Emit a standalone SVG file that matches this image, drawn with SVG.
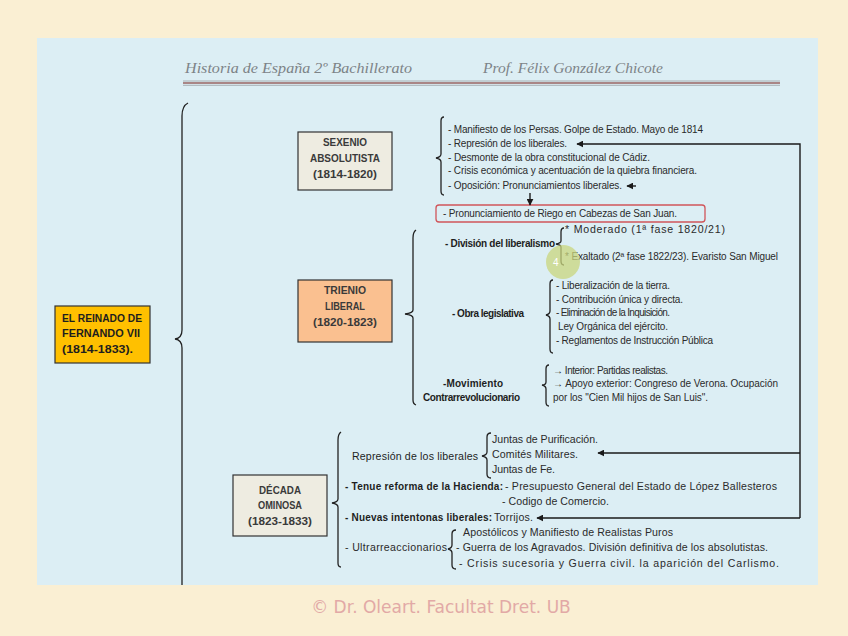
<svg xmlns="http://www.w3.org/2000/svg" width="848" height="636" viewBox="0 0 848 636">
<defs>
<marker id="ah" viewBox="0 0 10 10" refX="9" refY="5" markerWidth="5" markerHeight="5" orient="auto-start-reverse"><path d="M0,0 L10,5 L0,10 z" fill="#1a1a1a"/></marker>
<style>
text{font-family:"Liberation Sans",Arial,sans-serif;fill:#2b2b2b;font-size:10px}
.b{font-weight:bold;fill:#1e1e1e}
.m{font-size:10.6px}
.box{stroke:#333;stroke-width:1.2}
.bt{font-weight:bold;font-size:11px;fill:#3a3a3a;text-anchor:middle}
.br{fill:none;stroke:#222;stroke-width:1.3}
.cn{fill:none;stroke:#1a1a1a;stroke-width:1.4}
.hd{font-family:"Liberation Serif",serif;font-style:italic;font-size:15px;fill:#7d8387}
</style>
</defs>
<rect width="848" height="636" fill="#FAEFD3"/>
<rect x="37" y="38" width="781" height="547" fill="#DCEEF4"/>
<g id="header">
<text class="hd" x="185" y="73" textLength="227" lengthAdjust="spacingAndGlyphs">Historia de España 2º Bachillerato</text>
<text class="hd" x="483" y="73" textLength="180" lengthAdjust="spacingAndGlyphs">Prof. Félix González Chicote</text>
<line x1="183" y1="81" x2="780" y2="81" stroke="#9aa0a3" stroke-width="0.8"/>
<line x1="183" y1="83" x2="780" y2="83" stroke="#A98686" stroke-width="2.2"/>
<line x1="183" y1="85.3" x2="780" y2="85.3" stroke="#9aa0a3" stroke-width="0.8"/>
</g>
<g id="reinado">
<rect class="box" x="55" y="306" width="95" height="57" fill="#FFC000"/>
<text class="b" x="62" y="322" font-size="11" textLength="80" lengthAdjust="spacingAndGlyphs">EL REINADO DE</text>
<text class="b" x="62" y="337" font-size="11" textLength="78" lengthAdjust="spacingAndGlyphs">FERNANDO VII</text>
<text class="b" x="62" y="353" font-size="11" textLength="71" lengthAdjust="spacingAndGlyphs">(1814-1833).</text>
</g>
<g id="braces">
<path class="br" d="M188,103 Q182,106 182,116 L182,330 Q182,338 175,339 Q182,340 182,348 L182,585" stroke-width="2"/>
<path class="br" d="M444,117 Q441,117 441,121 L441,154 Q441,157 436,158 Q441,159 441,162 L441,191 Q441,195 444,195"/>
<path class="br" d="M416,230 Q413,232 413,238 L413,310 Q413,313 405,314 Q413,315 413,318 L413,400 Q413,404 416,405"/>
<path class="br" d="M564,228 Q561,228 561,232 L561,241 Q561,243 556,244 Q561,245 561,247 L561,261 Q561,265 564,265"/>
<path class="br" d="M553,280 Q550,280 550,284 L550,311 Q550,314 546,315 Q550,316 550,319 L550,349 Q550,353 553,353"/>
<path class="br" d="M549,365 Q546,365 546,369 L546,382 Q546,385 542,385 Q546,386 546,389 L546,402 Q546,406 549,406"/>
<path class="br" d="M341,432 Q338,434 338,440 L338,499 Q338,502 332,503 Q338,504 338,507 L338,563 Q338,567 341,567"/>
<path class="br" d="M491,433 Q487,433 487,437 L487,452 Q487,455 482,456 Q487,457 487,460 L487,474 Q487,478 491,478"/>
<path class="br" d="M456,530 Q452,530 452,534 L452,545 Q452,548 448,549 Q452,550 452,553 L452,565 Q452,569 456,569"/>
</g>
<g id="sexenio">
<rect class="box" x="298" y="132" width="94" height="58" fill="#EEECE1"/>
<text class="bt" x="345" y="146" textLength="44" lengthAdjust="spacingAndGlyphs">SEXENIO</text>
<text class="bt" x="345" y="162" textLength="70" lengthAdjust="spacingAndGlyphs">ABSOLUTISTA</text>
<text class="bt" x="345" y="178" textLength="64" lengthAdjust="spacingAndGlyphs">(1814-1820)</text>
<text x="448" y="133" textLength="255" lengthAdjust="spacing">- Manifiesto de los Persas. Golpe de Estado. Mayo de 1814</text>
<text x="448" y="147" textLength="119" lengthAdjust="spacing">- Represión de los liberales.</text>
<text x="448" y="161" textLength="202" lengthAdjust="spacing">- Desmonte de la obra constitucional de Cádiz.</text>
<text x="448" y="174" textLength="249" lengthAdjust="spacing">- Crisis económica y acentuación de la quiebra financiera.</text>
<text x="448" y="189" textLength="174" lengthAdjust="spacing">- Oposición: Pronunciamientos liberales.</text>
</g>
<g id="riego">
<rect x="436" y="205" width="269" height="17" rx="3" fill="none" stroke="#D0555A" stroke-width="1.3"/>
<text x="443" y="217" textLength="234" lengthAdjust="spacing">- Pronunciamiento de Riego en Cabezas de San Juan.</text>
</g>
<g id="trienio">
<rect class="box" x="298" y="280" width="94" height="62" fill="#FAC090"/>
<text class="bt" x="345" y="294" textLength="42" lengthAdjust="spacingAndGlyphs">TRIENIO</text>
<text class="bt" x="345" y="310" textLength="40" lengthAdjust="spacingAndGlyphs">LIBERAL</text>
<text class="bt" x="345" y="326" textLength="64" lengthAdjust="spacingAndGlyphs">(1820-1823)</text>
</g>
<g id="division">
<text class="b" x="445" y="247" textLength="110" lengthAdjust="spacing">- División del liberalismo</text>
<text class="m" x="565" y="233" textLength="160" lengthAdjust="spacing">* Moderado (1ª fase 1820/21)</text>
<text x="565" y="260" textLength="213" lengthAdjust="spacing">* Exaltado (2ª fase 1822/23). Evaristo San Miguel</text>
<circle cx="563" cy="262" r="17" fill="#C9D67E" fill-opacity="0.75"/>
<text x="553" y="266" font-size="11" style="fill:#ffffff">4</text>
</g>
<g id="obra">
<text class="b" x="452" y="317" textLength="72" lengthAdjust="spacing">- Obra legislativa</text>
<text x="556" y="289" textLength="114" lengthAdjust="spacing">- Liberalización de la tierra.</text>
<text x="556" y="303" textLength="127" lengthAdjust="spacing">- Contribución única y directa.</text>
<text x="556" y="316" textLength="114" lengthAdjust="spacing">- Eliminación de la Inquisición.</text>
<text x="558" y="330" textLength="110" lengthAdjust="spacing">Ley Orgánica del ejército.</text>
<text x="556" y="344" textLength="157" lengthAdjust="spacing">- Reglamentos de Instrucción Pública</text>
</g>
<g id="contrarrevolucion">
<text class="b" x="443" y="387" textLength="60" lengthAdjust="spacing">-Movimiento</text>
<text class="b" x="423" y="401" textLength="97" lengthAdjust="spacing">Contrarrevolucionario</text>
<text x="553" y="374" textLength="115" lengthAdjust="spacing">→ Interior: Partidas realistas.</text>
<text x="553" y="387" textLength="225" lengthAdjust="spacing">→ Apoyo exterior: Congreso de Verona. Ocupación</text>
<text x="553" y="401" textLength="155" lengthAdjust="spacing">por los "Cien Mil hijos de San Luis".</text>
</g>
<g id="decada">
<rect class="box" x="233" y="475" width="94" height="61" fill="#EEECE1"/>
<text class="bt" x="280" y="494" textLength="42" lengthAdjust="spacingAndGlyphs">DÉCADA</text>
<text class="bt" x="280" y="509" textLength="44" lengthAdjust="spacingAndGlyphs">OMINOSA</text>
<text class="bt" x="280" y="525" textLength="64" lengthAdjust="spacingAndGlyphs">(1823-1833)</text>
</g>
<g id="represion">
<text class="m" x="352" y="460" textLength="126" lengthAdjust="spacing" style="fill:#1e1e1e">Represión de los liberales</text>
<text class="m" x="492" y="443" textLength="106" lengthAdjust="spacing">Juntas de Purificación.</text>
<text class="m" x="492" y="458" textLength="86" lengthAdjust="spacing">Comités Militares.</text>
<text class="m" x="492" y="473" textLength="63" lengthAdjust="spacing">Juntas de Fe.</text>
</g>
<g id="hacienda">
<text class="b" x="345" y="490" textLength="158" lengthAdjust="spacing">- Tenue reforma de la Hacienda:</text>
<text class="m" x="505" y="490" textLength="272" lengthAdjust="spacing">- Presupuesto General del Estado de  López Ballesteros</text>
<text class="m" x="502" y="505" textLength="107" lengthAdjust="spacing">- Codigo de Comercio.</text>
</g>
<g id="intentonas">
<text class="b" x="345" y="521" textLength="147" lengthAdjust="spacing">- Nuevas intentonas liberales:</text>
<text class="m" x="494" y="521" textLength="39" lengthAdjust="spacing">Torrijos.</text>
</g>
<g id="ultra">
<text class="m" x="345" y="551" textLength="102" lengthAdjust="spacing">- Ultrarreaccionarios</text>
<text class="m" x="463" y="536" textLength="210" lengthAdjust="spacing">Apostólicos y Manifiesto de Realistas Puros</text>
<text class="m" x="456" y="551" textLength="312" lengthAdjust="spacing">- Guerra de los Agravados. División definitiva de los absolutistas.</text>
<text class="m" x="459" y="567" textLength="320" lengthAdjust="spacing">-  Crisis  sucesoria  y  Guerra  civil.  la  aparición  del  Carlismo.</text>
</g>
<g id="connectors">
<polyline class="cn" points="800,518 800,144 577,144" marker-end="url(#ah)"/>
<line class="cn" x1="800" y1="453" x2="598" y2="453" marker-end="url(#ah)"/>
<line class="cn" x1="800" y1="518" x2="537" y2="518" marker-end="url(#ah)"/>
<line class="cn" x1="636" y1="186" x2="627" y2="186" marker-end="url(#ah)"/>
<line class="cn" x1="530" y1="193" x2="530" y2="205" marker-end="url(#ah)"/>
</g>
<text x="441" y="613" text-anchor="middle" style="font-family:'DejaVu Sans',sans-serif;font-size:17px;fill:#E2A9A6">© Dr. Oleart. Facultat Dret. UB</text>
</svg>
